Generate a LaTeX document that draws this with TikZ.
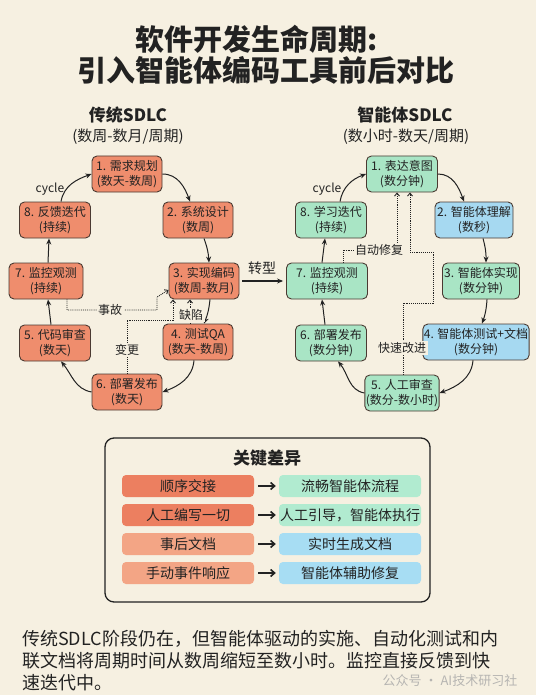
\documentclass[tikz,border=0pt]{standalone}
\usepackage{fontspec}
\setmainfont{Noto Sans CJK SC}
\usetikzlibrary{arrows.meta,calc}
\definecolor{bgc}{HTML}{F6F0E1}
\definecolor{txt}{HTML}{222222}
\definecolor{orgc}{HTML}{EF8D6D}
\definecolor{grnc}{HTML}{A9E5C5}
\definecolor{bluc}{HTML}{A6D9F1}
\definecolor{bdr}{HTML}{4A3A32}
\definecolor{torgA}{HTML}{EC7F60}
\definecolor{torgB}{HTML}{F3A585}
\definecolor{tgrn}{HTML}{B1EBD0}
\definecolor{tblu}{HTML}{A7DDF3}
\begin{document}
\begin{tikzpicture}[x=1pt,y=-1pt,
  cyc/.style={draw=bdr, line width=0.9pt, rounded corners=5pt, align=center,
    font=\fontsize{12}{15}\selectfont, minimum height=36pt, inner sep=1pt, text=txt},
  org/.style={cyc, fill=orgc},
  grn/.style={cyc, fill=grnc},
  blu/.style={cyc, fill=bluc},
  flow/.style={-{Stealth[length=6pt,width=5pt]}, line width=1pt, draw=txt},
  dotl/.style={densely dotted, line width=0.9pt, draw=txt},
  dota/.style={dotl, -{Straight Barb[length=3pt,width=5pt]}},
  lbl/.style={fill=bgc, inner sep=1.5pt, text=txt, font=\fontsize{12}{14}\selectfont},
  cyclbl/.style={text=txt, font=\fontsize{12}{14}\selectfont},
  rowbox/.style={rounded corners=4pt, minimum height=22pt, inner sep=0pt, text=txt,
    font=\fontsize{14}{16}\selectfont},
  rowarr/.style={-{Straight Barb[length=4pt,width=7pt]}, line width=1.6pt, draw=txt}
]
\useasboundingbox (0,0) rectangle (536,695);
\fill[bgc] (0,0) rectangle (536,695);

% title
\node[text=txt, font=\fontsize{29}{32}\selectfont\bfseries] (t1) at (257,39) {软件开发生命周期:};
\node[text=txt, font=\fontsize{29}{32}\selectfont\bfseries] (t2) at (266,70) {引入智能体编码工具前后对比};

\node[text=txt, font=\fontsize{17}{19}\selectfont\bfseries] (hl1) at (128,115) {传统SDLC};
\node[text=txt, font=\fontsize{15}{17}\selectfont] (hl2) at (128,137) {(数周-数月/周期)};
\node[text=txt, font=\fontsize{17}{19}\selectfont\bfseries] (hr1) at (405,115) {智能体SDLC};
\node[text=txt, font=\fontsize{15}{17}\selectfont] (hr2) at (406,137) {(数小时-数天/周期)};

% left cycle
\node[org, minimum width=70pt] (L1) at (127,174) {1. 需求规划\\(数天-数周)};
\node[org, minimum width=70pt] (L2) at (198,220) {2. 系统设计\\(数周)};
\node[org, minimum width=70pt] (L3) at (204,281) {3. 实现编码\\(数周-数月)};
\node[org, minimum width=70pt] (L4) at (198,342) {4. 测试QA\\(数天-数周)};
\node[org, minimum width=70pt] (L6) at (127,392) {6. 部署发布\\(数天)};
\node[org, minimum width=71pt] (L5) at (55,343) {5. 代码审查\\(数天)};
\node[org, minimum width=74pt] (L7) at (46,281) {7. 监控观测\\(持续)};
\node[org, minimum width=71pt] (L8) at (55,220) {8. 反馈迭代\\(持续)};

\draw[flow] (L1.east) to[out=0,in=110] ([xshift=-8pt]L2.north);
\draw[flow] ([xshift=6pt]L2.south) to[bend left=8] ([xshift=5pt]L3.north);
\draw[flow] ([xshift=6pt]L3.south) to[bend left=8] ([xshift=6pt]L4.north);
\draw[flow] ([xshift=-4pt]L4.south) to[out=-95,in=20] (L6.east);
\draw[flow] (L6.west) to[out=170,in=-50] ([xshift=6pt]L5.south);
\draw[flow] ([xshift=-4pt]L5.north) -- ([xshift=2pt]L7.south);
\draw[flow] ([xshift=2pt]L7.north) -- ([xshift=-6pt]L8.south);
\draw[flow] ([xshift=6pt]L8.north) to[out=80,in=200] (L1.west);
\node[cyclbl] (cl) at (50,189) {cycle};

% left dotted
\coordinate (a1) at (67,310);
\coordinate (a2) at (157,310);
\coordinate (a3) at (157,297);
\draw[dota] ([xshift=21pt]L7.south) -- (a1) -- (a2) -- (a3) -- ([yshift=-9pt]L3.west);
\node[lbl] (lsg) at (110,310) {事故};
\coordinate (b1) at (127,320);
\coordinate (b2) at (173,320);
\draw[dota] (L6.north) -- (b1) -- (b2) -- (L3.south -| b2);
\node[lbl] (lbg) at (127,350) {变更};
\draw[dota] ([xshift=-8pt]L4.north) -- ([xshift=-14pt]L3.south);
\node[lbl] (lqx) at (191,315) {缺陷};

% right cycle
\node[grn, minimum width=71pt] (R1) at (402,174) {1. 表达意图\\(数分钟)};
\node[blu, minimum width=78pt] (R2) at (474,220) {2. 智能体理解\\(数秒)};
\node[grn, minimum width=77pt] (R3) at (481,281) {3. 智能体实现\\(数分钟)};
\node[blu, minimum width=98pt] (R4) at (476,342) {4. 智能体测试+文档\\(数分钟)};
\node[grn, minimum width=71pt] (R5) at (402,393) {5. 人工审查\\(数分-数小时)};
\node[grn, minimum width=71pt] (R6) at (331,343) {6. 部署发布\\(数分钟)};
\node[grn, minimum width=81pt] (R7) at (327,281) {7. 监控观测\\(持续)};
\node[grn, minimum width=71pt] (R8) at (331,220) {8. 学习迭代\\(持续)};

\draw[flow] (R1.east) to[out=0,in=110] ([xshift=-10pt]R2.north);
\draw[flow] ([xshift=9pt]R2.south) to[bend left=8] ([xshift=5pt]R3.north);
\draw[flow] ([xshift=6pt]R3.south) to[bend left=8] ([xshift=6pt]R4.north);
\draw[flow] ([xshift=-3pt]R4.south) to[out=-95,in=20] (R5.east);
\draw[flow] (R5.west) to[out=170,in=-50] ([xshift=7pt]R6.south);
\draw[flow] ([xshift=-6pt]R6.north) -- ([xshift=-5pt]R7.south);
\draw[flow] ([xshift=-5pt]R7.north) -- ([xshift=-6pt]R8.south);
\draw[flow] ([xshift=9pt]R8.north) to[out=80,in=200] (R1.west);
\node[cyclbl] (cr) at (327,189) {cycle};

% transition
\draw[flow, line width=1.3pt] ([xshift=3pt]L3.east) -- ([xshift=-3pt]R7.west);
\node[text=txt, font=\fontsize{14}{16}\selectfont] (zx) at (262,268) {转型};

% right dotted
\coordinate (c1) at (343,250);
\coordinate (c2) at (397,250);
\draw[dota] ([xshift=16pt]R7.north) -- (c1) -- (c2) -- (R1.south -| c2);
\node[lbl] (lzd) at (379,250) {自动修复};
\coordinate (d1) at (403,303);
\coordinate (d2) at (433,303);
\coordinate (d3) at (433,252);
\coordinate (d4) at (410,252);
\draw[dota] (R5.north -| d1) -- (d1) -- (d2) -- (d3) -- (d4) -- (R1.south -| d4);
\node[lbl] (lks) at (402,348) {快速改进};

% key differences
\node[draw=txt, line width=1.3pt, rounded corners=9pt, minimum width=325pt, minimum height=164pt] (kd) at (267.5,520) {};
\node[text=txt, font=\fontsize{17}{19}\selectfont\bfseries] (kdt) at (267,458) {关键差异};

\node[rowbox, fill=torgA, minimum width=132pt] (k1l) at (188,486) {顺序交接};
\node[rowbox, fill=torgA, minimum width=132pt] (k2l) at (188,515) {人工编写一切};
\node[rowbox, fill=torgB, minimum width=132pt] (k3l) at (188,544) {事后文档};
\node[rowbox, fill=torgB, minimum width=132pt] (k4l) at (188,573) {手动事件响应};
\node[rowbox, fill=tgrn, minimum width=142pt] (k1r) at (350,486) {流畅智能体流程};
\node[rowbox, fill=tgrn, minimum width=142pt] (k2r) at (350,515) {人工引导，智能体执行};
\node[rowbox, fill=tblu, minimum width=142pt] (k3r) at (350,544) {实时生成文档};
\node[rowbox, fill=tblu, minimum width=142pt] (k4r) at (350,573) {智能体辅助修复};
\foreach \i in {1,2,3,4}{
  \draw[rowarr] ([xshift=4pt]k\i l.east) -- ([xshift=-3pt]k\i r.west);
}

% bottom paragraph
\node[anchor=north west, text=txt, align=left, inner sep=0pt,
  font=\fontsize{18}{21.8}\selectfont] (para) at (22,630)
  {传统SDLC阶段仍在，但智能体驱动的实施、自动化测试和内\\
   联文档将周期时间从数周缩短至数小时。监控直接反馈到快\\
   速迭代中。};
\node[text=black!35, font=\fontsize{13}{15}\selectfont, opacity=0.8] (wm) at (450,681) {公众号 · AI技术研习社};
\end{tikzpicture}
\end{document}
